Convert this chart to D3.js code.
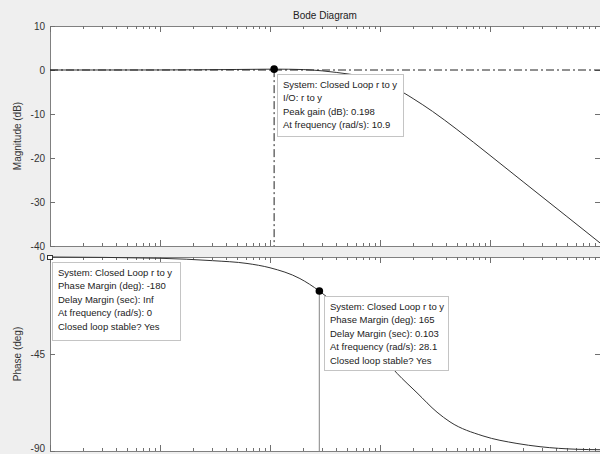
<!DOCTYPE html>
<html><head><meta charset="utf-8">
<script src="https://cdn.jsdelivr.net/npm/d3@7"></script>
<style>
html,body{margin:0;padding:0;background:#efefef;}
svg{display:block;font-family:"Liberation Sans",Arial,sans-serif;}
</style></head>
<body>
<svg id="c" width="600" height="454"></svg>
<script>
// ---- data ----
const freqMag = [0.1, 1, 5, 10.9, 20, 30, 40, 53, 70, 100, 162, 200, 300, 500, 1000, 2000, 5000, 10000];
const magDB   = [0, 0.01, 0.12, 0.198, 0.1, -0.2, -0.55, -0.95, -1.5, -2.7, -5.1, -6.5, -9.4, -13.5, -19.4, -25.4, -33.3, -39.3];
const freqPhase = [0.1, 1, 3, 6.18, 10, 18.7, 28.1, 50, 70, 100, 143, 217, 330, 433, 863, 1758, 2850, 6170, 10000];
const phaseDeg  = [0, -0.6, -1.7, -3, -5, -10, -15.8, -27, -35, -45, -54, -63, -72, -76.5, -83, -86.5, -88, -89.2, -89.4];
const magTicks = [10, 0, -10, -20, -30, -40];
const phaseTicks = [0, -45, -90];
const freqDomain = [0.1, 10000];
const peakPoint = {f: 10.9, v: 0.198};
const pmPoint = {f: 28.1, v: -15.8};
const tipMag = ["System: Closed Loop r to y", "I/O: r to y", "Peak gain (dB): 0.198", "At frequency (rad/s): 10.9"];
const tipPm0 = ["System: Closed Loop r to y", "Phase Margin (deg): -180", "Delay Margin (sec): Inf", "At frequency (rad/s): 0", "Closed loop stable? Yes"];
const tipPm = ["System: Closed Loop r to y", "Phase Margin (deg): 165", "Delay Margin (sec): 0.103", "At frequency (rad/s): 28.1", "Closed loop stable? Yes"];

const svg = d3.select("#c");
const L = 50, R = 600;
const x = d3.scaleLog().domain(freqDomain).range([L, R]);
const yM = d3.scaleLinear().domain([-40, 10]).range([246, 26]);
const yP = d3.scaleLinear().domain([-90, 0]).range([451, 257]);

svg.append("text").attr("x", 325).attr("y", 19).attr("text-anchor", "middle")
  .attr("font-size", 10).attr("fill", "#222").text("Bode Diagram");

function panel(y, ticks, label) {
  const [y1, y0] = y.range();
  const g = svg.append("g");
  g.append("rect").attr("x", L + 0.5).attr("y", y0 + 0.5).attr("width", R - L).attr("height", y1 - y0)
    .attr("fill", "#fff").attr("stroke", "#808080");
  x.ticks().forEach(t => {
    const major = Math.abs(Math.log10(t) - Math.round(Math.log10(t))) < 1e-9;
    const len = major ? 6 : 3;
    const xx = Math.round(x(t)) + 0.5;
    g.append("line").attr("x1", xx).attr("x2", xx).attr("y1", y1).attr("y2", y1 - len).attr("stroke", "#707070");
    g.append("line").attr("x1", xx).attr("x2", xx).attr("y1", y0).attr("y2", y0 + len).attr("stroke", "#707070");
  });
  ticks.forEach(t => {
    const yy = Math.round(y(t)) + 0.5;
    g.append("line").attr("x1", L).attr("x2", L + 5).attr("y1", yy).attr("y2", yy).attr("stroke", "#707070");
    g.append("line").attr("x1", R - 5).attr("x2", R).attr("y1", yy).attr("y2", yy).attr("stroke", "#707070");
    g.append("text").attr("x", 45).attr("y", Math.min(yy + 3.5, 452)).attr("text-anchor", "end")
      .attr("font-size", 10).attr("fill", "#333").text(t);
  });
  const cy = (y0 + y1) / 2;
  g.append("text").attr("transform", `translate(21,${cy}) rotate(-90)`).attr("text-anchor", "middle")
    .attr("font-size", 10).attr("fill", "#333").text(label);
  return g;
}
panel(yM, magTicks, "Magnitude (dB)");
panel(yP, phaseTicks, "Phase (deg)");

const line = (ys) => d3.line().x(d => x(d[0])).y(d => ys(d[1])).curve(d3.curveMonotoneX);

svg.append("path").datum(d3.zip(freqMag, magDB)).attr("d", line(yM))
  .attr("fill", "none").attr("stroke", "#333").attr("stroke-width", 1);
svg.append("line").attr("x1", L).attr("x2", R).attr("y1", yM(0)).attr("y2", yM(0))
  .attr("stroke", "#222").attr("stroke-width", 1).attr("stroke-dasharray", "8,3,2,3");
svg.append("line").attr("x1", x(peakPoint.f)).attr("x2", x(peakPoint.f)).attr("y1", yM(peakPoint.v)).attr("y2", yM(-40))
  .attr("stroke", "#222").attr("stroke-width", 1).attr("stroke-dasharray", "8,3,2,3");

svg.append("path").datum(d3.zip(freqPhase, phaseDeg)).attr("d", line(yP))
  .attr("fill", "none").attr("stroke", "#333").attr("stroke-width", 1);
svg.append("line").attr("x1", x(pmPoint.f)).attr("x2", x(pmPoint.f)).attr("y1", yP(pmPoint.v)).attr("y2", yP(-90))
  .attr("stroke", "#999").attr("stroke-width", 1.2);

svg.append("circle").attr("cx", x(peakPoint.f)).attr("cy", yM(peakPoint.v)).attr("r", 3.8).attr("fill", "#000");
svg.append("circle").attr("cx", x(pmPoint.f)).attr("cy", yP(pmPoint.v)).attr("r", 3.8).attr("fill", "#000");
svg.append("rect").attr("x", 47.5).attr("y", 255.5).attr("width", 5).attr("height", 4).attr("fill", "#fff").attr("stroke", "#333");

function tip(x0, y0, w, h, lines) {
  const g = svg.append("g");
  g.append("rect").attr("x", x0 + 0.5).attr("y", y0 + 0.5).attr("width", w).attr("height", h)
    .attr("fill", "#fff").attr("stroke", "#c4c4c4");
  lines.forEach((s, i) => {
    g.append("text").attr("x", x0 + 6).attr("y", y0 + 14 + i * 13.4)
      .attr("font-size", 9.5).attr("fill", "#222").text(s);
  });
}
tip(277, 74, 126, 62, tipMag);
tip(52, 262, 128, 78, tipPm0);
tip(324, 296, 124, 74, tipPm);
</script>
</body></html>
